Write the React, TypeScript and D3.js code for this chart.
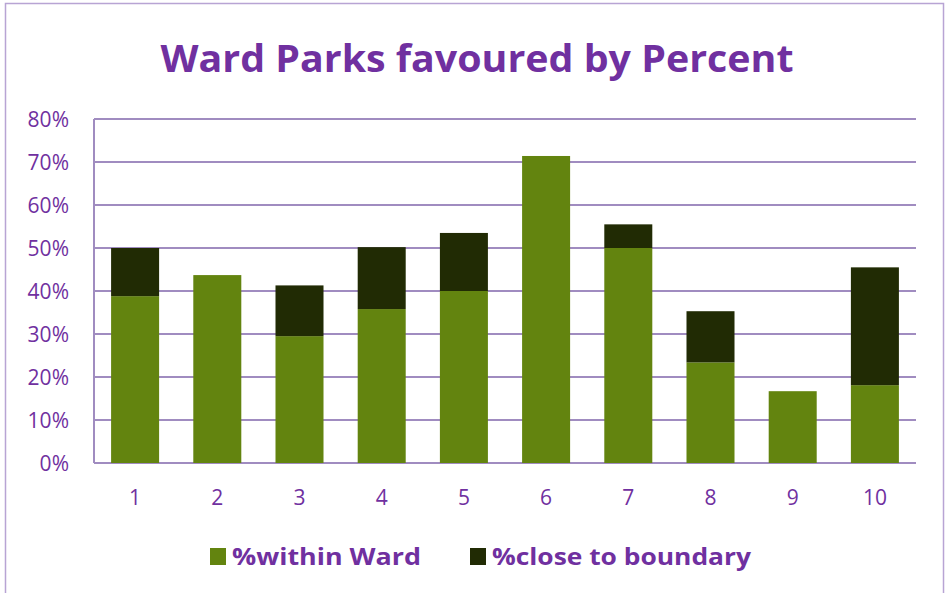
import React from "react";
import * as d3 from "d3";

const wards = ["1", "2", "3", "4", "5", "6", "7", "8", "9", "10"];
const withinWard = [38.8, 43.7, 29.5, 35.8, 40.0, 71.4, 50.0, 23.4, 16.7, 18.1];
const closeToBoundary = [11.2, 0, 11.8, 14.4, 13.5, 0, 5.5, 11.9, 0, 27.4];
const yTicks = [0, 10, 20, 30, 40, 50, 60, 70, 80];
const seriesNames = ["%within Ward", "%close to boundary"];
const colors = ["#63840f", "#212b04"];

const W = 947, H = 593;
const purple = "#7030a0";
const gridColor = "#a08cc0";
const font = "'Open Sans', 'DejaVu Sans', sans-serif";

export default function App() {
  const x = d3.scaleBand().domain(wards).range([94, 916]).paddingInner(0.416).paddingOuter(0.208);
  const y = d3.scaleLinear().domain([0, 80]).range([463, 119]);
  const rows = wards.map((w, i) => ({ w, a: withinWard[i], b: closeToBoundary[i] }));
  const stack = d3.stack<any>().keys(["a", "b"])(rows as any);

  return (
    <svg width={W} height={H} style={{ position: "absolute", left: 0, top: 0, background: "#fff" }}>
      <rect x={5.5} y={3.5} width={938} height={620} fill="#fff" stroke="#b8a4d4" strokeWidth={1.5} />
      <text x={477} y={72} textAnchor="middle" fill={purple} fontFamily={font} fontWeight="bold"
        fontSize={38} textLength={633} lengthAdjust="spacingAndGlyphs">Ward Parks favoured by Percent</text>
      {yTicks.map((t) => (
        <g key={t}>
          <line x1={94} x2={916} y1={y(t)} y2={y(t)} stroke={gridColor} strokeWidth={2} />
          <text x={69} y={y(t)} dy="0.36em" textAnchor="end" fill={purple} fontFamily={font} fontSize={21}>{t}%</text>
        </g>
      ))}
      <line x1={94} x2={94} y1={119} y2={463} stroke={gridColor} strokeWidth={2} />
      {stack.map((s, si) => (
        <g key={si} fill={colors[si]}>
          {s.map((d: any, i: number) => d[1] - d[0] > 0 ? (
            <rect key={i} x={x(wards[i])} width={x.bandwidth()} y={y(d[1])} height={y(d[0]) - y(d[1])} />
          ) : null)}
        </g>
      ))}
      {wards.map((w) => (
        <text key={w} x={(x(w) as number) + x.bandwidth() / 2} y={505} textAnchor="middle" fill={purple}
          fontFamily={font} fontSize={21}>{w}</text>
      ))}
      {seriesNames.map((n, i) => {
        const sx = i === 0 ? 210 : 470;
        const tl = i === 0 ? 189 : 259;
        return (
          <g key={n}>
            <rect x={sx} y={548} width={16} height={17} fill={colors[i]} />
            <text x={sx + 22} y={565} fill={purple} fontFamily={font} fontWeight="bold" fontSize={24}
              textLength={tl} lengthAdjust="spacingAndGlyphs">{n}</text>
          </g>
        );
      })}
    </svg>
  );
}
